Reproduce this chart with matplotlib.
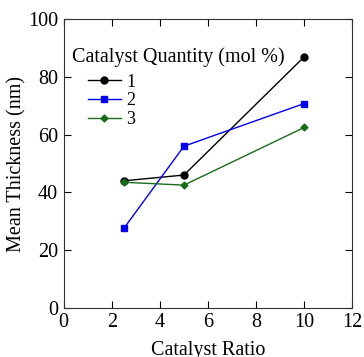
import matplotlib.pyplot as plt

plt.rcParams['font.family'] = ['Liberation Serif', 'DejaVu Serif']

ratio = [2.5, 5, 10]
thick_1 = [44.0, 46.0, 87.0]
thick_2 = [27.5, 56.0, 70.8]
thick_3 = [43.5, 42.5, 62.5]
labels = ['1', '2', '3']

fig = plt.figure(figsize=(3.64, 3.57), dpi=100)
ax = fig.add_axes([0.175, 0.138, 0.793, 0.808])

ax.plot(ratio, thick_1, color='black', marker='o', ms=5, lw=1, label=labels[0])
ax.plot(ratio, thick_2, color='#0000ee', marker='s', ms=5, lw=1, label=labels[1])
ax.plot(ratio, thick_3, color='#1a6b1a', marker='D', ms=3.5, lw=1, label=labels[2])

ax.set_xlim(0, 12)
ax.set_ylim(0, 100)
ax.set_xticks(range(0, 13, 2))
ax.set_yticks(range(0, 101, 20))
ax.tick_params(direction='in', top=True, right=True, labelsize=14.5, length=5, pad=4)
for s in ax.spines.values():
    s.set_color('#333333')
ax.set_xlabel('Catalyst Ratio', fontsize=14.5, labelpad=6)
ax.set_ylabel('Mean Thickness (nm)', fontsize=14.5, labelpad=1)

# legend title drawn separately so the entries can sit indented under it
ax.text(0.03, 0.868, 'Catalyst Quantity (mol %)', transform=ax.transAxes,
        fontsize=14.5, va='center', ha='left')
ax.legend(loc='upper left', bbox_to_anchor=(0.085, 0.812),
          frameon=False, fontsize=13, handlelength=1.8,
          handletextpad=0.3, labelspacing=0.1, borderaxespad=0.0,
          borderpad=0.0)

fig.savefig('out.png', dpi=100)
